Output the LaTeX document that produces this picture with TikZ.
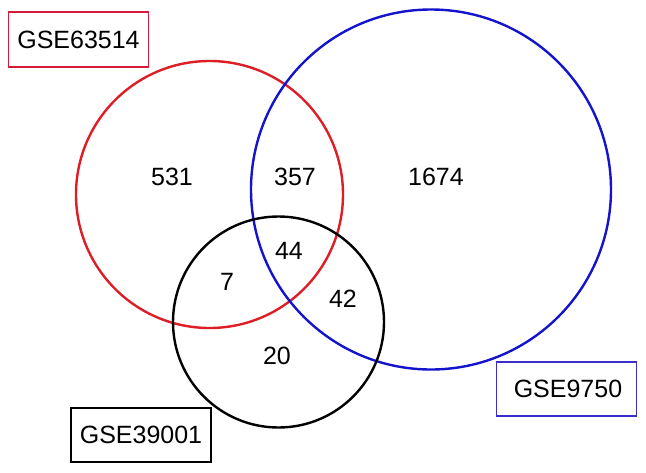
\documentclass[tikz,border=0pt]{standalone}
\usepackage{fontspec}
\setmainfont{Liberation Sans}
\definecolor{setred}{RGB}{222,30,38}
\definecolor{boxred}{RGB}{214,26,60}
\definecolor{setblue}{RGB}{20,20,205}
\definecolor{boxblue}{RGB}{60,45,205}
\newcommand{\setfont}{\fontsize{25}{30}\selectfont}

\begin{document}
\begin{tikzpicture}[x=1pt,y=-1pt,
    setline/.style={line width=2.4pt},
    setbox/.style={draw,line width=1.9pt,minimum width=140pt,minimum height=54.5pt,
                   inner sep=0pt,font=\setfont},
    count/.style={font=\setfont,inner sep=0pt}]
     \useasboundingbox (0,0) rectangle (646,472);
     \coordinate (cred)   at (209.5,194.5);
     \coordinate (cblue)  at (431,189.5);
     \coordinate (cblack) at (278.5,322);
     \draw[setline,setred]   (cred)   circle[radius=133.5];
     \draw[setline,setblue]  (cblue)  circle[radius=180];
     \draw[setline,black]    (cblack) circle[radius=105.5];
     \node[setbox,draw=boxred]  (gse63514) at (78.5,39.5)  {GSE63514};
     \node[setbox,draw=boxblue] (gse9750)  at (566.5,389) {\hspace{3pt}GSE9750};
     \node[setbox,draw=black]   (gse39001) at (141,435)   {GSE39001};
     \node[count] (onlyred)   at (172,177) {531};
     \node[count] (redblue)   at (295,177) {357};
     \node[count] (onlyblue)  at (436,177) {1674};
     \node[count] (allthree)  at (289,251) {44};
     \node[count] (redblack)  at (227,282) {7};
     \node[count] (blueblack) at (343,299) {42};
     \node[count] (onlyblack) at (277,356) {20};
    \end{tikzpicture}
\end{document}
